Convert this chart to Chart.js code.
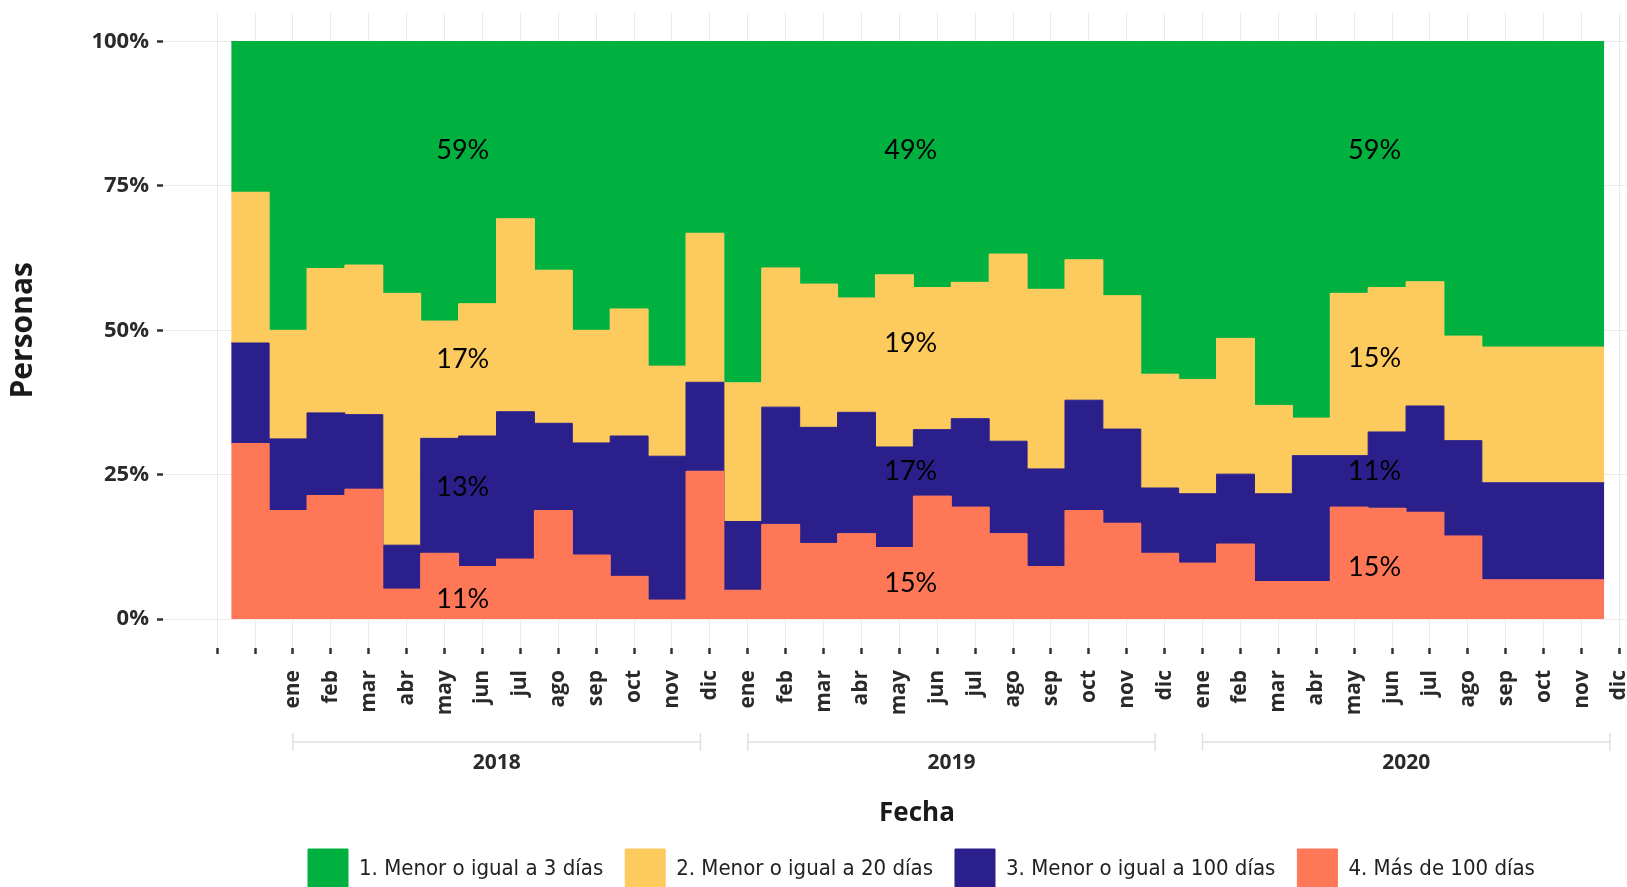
<!DOCTYPE html>
<html lang="es">
<head>
<meta charset="utf-8">
<title>Personas según días</title>
<script src="https://cdn.jsdelivr.net/npm/chart.js@4.4.1/dist/chart.umd.min.js"></script>
<style>
  html, body { margin: 0; padding: 0; background: #fff; overflow: hidden; }
  #marco { width: 1627px; height: 887px; }
</style>
</head>
<body>
<div id="marco"><canvas id="grafico"></canvas></div>
<script>
// etiquetas del eje x: las dos primeras marcas van sin texto
const mesesAnio = ['ene', 'feb', 'mar', 'abr', 'may', 'jun', 'jul', 'ago', 'sep', 'oct', 'nov', 'dic'];
const mesesEje = ['', ''].concat(mesesAnio, mesesAnio, mesesAnio);
const anios = ['2018', '2019', '2020'];

// % de personas por mes (36 meses)
const masDe100 = [30.4, 18.8, 21.4, 22.5, 5.2, 11.4, 9.1, 10.4, 18.8, 11.1, 7.4, 3.3,
                  25.6, 5.0, 16.4, 13.1, 14.8, 12.4, 21.3, 19.4, 14.8, 9.1, 18.8, 16.6,
                  11.4, 9.7, 13.0, 6.5, 6.5, 19.4, 19.2, 18.5, 14.4, 6.8, 6.8, 6.8];
const hasta100 = [17.4, 12.4, 14.3, 12.9, 7.6, 19.9, 22.6, 25.5, 15.1, 19.4, 24.3, 24.9,
                  15.4, 11.9, 20.3, 20.1, 21.0, 17.4, 11.5, 15.3, 16.0, 16.9, 19.1, 16.3,
                  11.3, 12.0, 12.1, 15.2, 21.8, 8.9, 13.2, 18.4, 16.5, 16.8, 16.8, 16.8];
const hasta20 = [26.1, 18.8, 25.0, 25.9, 43.6, 20.3, 22.9, 33.4, 26.5, 19.5, 22.0, 15.6,
                 25.8, 24.0, 24.1, 24.8, 19.8, 29.8, 24.6, 23.6, 32.4, 31.1, 24.3, 23.1,
                 19.7, 19.8, 23.5, 15.3, 6.5, 28.1, 25.0, 21.5, 18.1, 23.5, 23.5, 23.5];
const hasta3 = [26.1, 50.0, 39.3, 38.7, 43.6, 48.4, 45.4, 30.7, 39.6, 50.0, 46.3, 56.2,
                33.2, 59.1, 39.2, 42.0, 44.4, 40.4, 42.6, 41.7, 36.8, 42.9, 37.8, 44.0,
                57.6, 58.5, 51.4, 63.0, 65.2, 43.6, 42.6, 41.6, 51.0, 52.9, 52.9, 52.9];

// promedios anuales escritos sobre las áreas
const promHasta3 = [59, 49, 59];
const promHasta20 = [17, 19, 15];
const promHasta100 = [13, 17, 11];
const promMasDe100 = [11, 15, 15];

const VERDE = '#00b140';
const AMARILLO = '#fdca5d';
const AZUL = '#2b1f8b';
const NARANJA = '#fe7757';

const DESFASE = 0.37;   // los escalones empiezan algo después de cada marca
const FIN_SERIE = 36.6;

function escalones(valores) {
    const puntos = valores.map((v, i) => ({ x: i + DESFASE, y: v }));
    puntos.push({ x: FIN_SERIE, y: valores[valores.length - 1] });
    return puntos;
}

function capa(label, valores, color, fill) {
    return {
        label: label,
        data: escalones(valores),
        backgroundColor: color,
        borderColor: color,
        borderWidth: 1,
        pointRadius: 0,
        stepped: true,
        fill: fill
    };
}

const fuenteEje = '"Open Sans", "DejaVu Sans", sans-serif';

// porcentajes promedio de cada año
const etiquetasPromedio = {
    id: 'etiquetasPromedio',
    afterDatasetsDraw(chart) {
        const { ctx, scales: { x, y } } = chart;
        const centros = [6.48, 18.3, 30.54];
        const alturas = [[81.1, 81.1, 81.1], [45.0, 47.8, 45.2], [22.9, 25.6, 25.6], [3.4, 6.2, 9.0]];
        const grupos = [promHasta3, promHasta20, promHasta100, promMasDe100];
        ctx.save();
        ctx.font = '27px Lato, "Open Sans", sans-serif';
        ctx.fillStyle = '#000';
        ctx.textAlign = 'center';
        ctx.textBaseline = 'middle';
        grupos.forEach((valores, fila) => {
            valores.forEach((v, j) => {
                ctx.fillText(v + '%', x.getPixelForValue(centros[j]), y.getPixelForValue(alturas[fila][j]));
            });
        });
        ctx.restore();
    }
};

// corchete y texto del año bajo los meses
const corchetesAnio = {
    id: 'corchetesAnio',
    afterDraw(chart) {
        const { ctx } = chart;
        const x = chart.scales.x;
        const yLinea = x.top + 94;
        const yTexto = x.top + 115;
        ctx.save();
        anios.forEach((anio, j) => {
            const ini = x.getPixelForValue(2 + 12 * j);
            const fin = x.getPixelForValue(13 + 12 * j - 0.25);
            ctx.strokeStyle = '#e0e0e0';
            ctx.lineWidth = 1.5;
            ctx.beginPath();
            ctx.moveTo(ini, yLinea - 9);
            ctx.lineTo(ini, yLinea + 9);
            ctx.moveTo(ini, yLinea);
            ctx.lineTo(fin, yLinea);
            ctx.moveTo(fin, yLinea - 9);
            ctx.lineTo(fin, yLinea + 9);
            ctx.stroke();
            ctx.font = 'bold 21px ' + fuenteEje;
            ctx.fillStyle = '#2a2a2a';
            ctx.textAlign = 'center';
            ctx.textBaseline = 'middle';
            ctx.fillText(anio, (ini + fin) / 2, yTexto);
        });
        ctx.restore();
    }
};

// la leyenda y el título "Fecha" del original no están centrados en el lienzo
const ajustarPosiciones = {
    id: 'ajustarPosiciones',
    afterLayout(chart) {
        const lg = chart.legend;
        const pad = lg.options.labels.padding;
        const dx = 308 - pad - lg.left;
        const dy = 849 - pad - lg.top;
        lg.left += dx; lg.right += dx;
        lg.top += dy; lg.bottom += dy;
        chart.scales.x.right += 44;
    }
};

new Chart(document.getElementById('grafico').getContext('2d'), {
    type: 'line',
    data: {
        datasets: [
            capa('4. Más de 100 días', masDe100, NARANJA, 'origin'),
            capa('3. Menor o igual a 100 días', hasta100, AZUL, '-1'),
            capa('2. Menor o igual a 20 días', hasta20, AMARILLO, '-1'),
            capa('1. Menor o igual a 3 días', hasta3, VERDE, '-1')
        ]
    },
    options: {
        responsive: true,
        maintainAspectRatio: false,
        animation: false,
        layout: { padding: { left: 0, right: 0, top: 12.6, bottom: -9 } },
        plugins: {
            tooltip: { enabled: false },
            legend: {
                position: 'bottom',
                align: 'start',
                reverse: true,
                labels: {
                    boxWidth: 40,
                    boxHeight: 40,
                    padding: 22,
                    color: '#222',
                    font: { family: '"Liberation Sans Narrow", "DejaVu Sans Condensed", sans-serif', size: 22 }
                }
            }
        },
        scales: {
            x: {
                type: 'linear',
                min: -1.43,
                max: 37.2,
                afterBuildTicks: function (scale) {
                    scale.ticks = mesesEje.map((m, k) => ({ value: k }));
                },
                afterFit: function (scale) {
                    scale.height = 176;
                    scale.paddingLeft = 0;
                    scale.paddingRight = 0;
                },
                border: { display: false },
                grid: {
                    color: '#ebebeb',
                    lineWidth: 1,
                    tickColor: '#333',
                    tickLength: 6,
                    tickWidth: 2.5
                },
                ticks: {
                    autoSkip: false,
                    minRotation: 90,
                    maxRotation: 90,
                    padding: 16,
                    color: '#2a2a2a',
                    font: { family: fuenteEje, size: 21, weight: 'bold' },
                    callback: function (value) {
                        return mesesEje[Math.round(value)];
                    }
                },
                title: {
                    display: true,
                    text: 'Fecha',
                    color: '#1a1a1a',
                    padding: { top: 0, bottom: -3 },
                    font: { family: fuenteEje, size: 26, weight: 'bold', lineHeight: 1 }
                }
            },
            y: {
                stacked: true,
                min: -5,
                max: 105,
                afterBuildTicks: function (scale) {
                    scale.ticks = [0, 25, 50, 75, 100].map(v => ({ value: v }));
                },
                afterFit: function (scale) {
                    scale.width = 163;
                    scale.paddingTop = 0;
                    scale.paddingBottom = 0;
                },
                border: { display: false },
                grid: {
                    color: '#ebebeb',
                    lineWidth: 1,
                    tickColor: '#333',
                    tickLength: 6,
                    tickWidth: 2.5
                },
                ticks: {
                    padding: 8,
                    color: '#2a2a2a',
                    font: { family: fuenteEje, size: 22, weight: 'bold' },
                    callback: function (value) {
                        return value + '%';
                    }
                },
                title: {
                    display: true,
                    text: 'Personas',
                    color: '#1a1a1a',
                    padding: { top: 8, bottom: 0 },
                    font: { family: fuenteEje, size: 30, weight: 'bold', lineHeight: 1 }
                }
            }
        }
    },
    plugins: [etiquetasPromedio, corchetesAnio, ajustarPosiciones]
});
</script>
</body>
</html>
